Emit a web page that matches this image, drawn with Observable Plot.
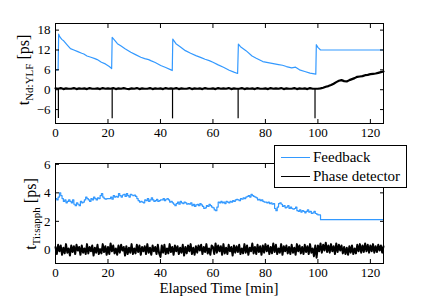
<!DOCTYPE html>
<html><head><meta charset="utf-8">
<script src="https://cdn.jsdelivr.net/npm/d3@7"></script>
<script src="https://cdn.jsdelivr.net/npm/@observablehq/plot@0.6"></script>
<style>
html,body{margin:0;padding:0;background:#fff;}
#wrap{position:relative;width:422px;height:297px;overflow:hidden;font-family:"Liberation Serif","Times New Roman",serif;color:#000;}
#wrap svg{position:absolute;left:0;overflow:visible;background:transparent;}
#wrap svg, #wrap svg text{font-family:"Liberation Serif","Times New Roman",serif !important;font-size:13px !important;}
.ylab{position:absolute;transform:translate(-50%,-50%) rotate(-90deg);white-space:nowrap;font-size:16px;line-height:1;}
.ylab sub{font-size:11px;vertical-align:-4px;line-height:0;}
#xlab{position:absolute;left:219px;top:288px;transform:translate(-50%,-50%);font-size:15px;white-space:nowrap;}
#legend{position:absolute;left:274px;top:145px;width:131px;height:41px;border:1px solid #000;background:#fff;font-size:15px;}
#legend .row{position:absolute;left:6px;height:18px;display:flex;align-items:center;}
#legend .sw{width:29px;height:0;border-top:1.3px solid;margin-right:3px;}
</style>
</head><body>
<div id="wrap"></div>
<script>
const xTicks = [0, 20, 40, 60, 80, 100, 120];
const topYTicks = [-6, 0, 6, 12, 18];
const botYTicks = [0, 2, 4, 6];
const seriesNames = ["Feedback", "Phase detector"];
const seriesColors = ["#3399ff", "#000000"];

// ---- top panel: t_Nd:YLF ----
const fbTopT = [0, 1.0, 1.2, 1.6, 2.4, 3.2, 4.5, 5.7, 7, 8.5, 10, 10.8, 12, 13.5, 15, 15.9, 17.5, 19, 20.5, 21.4,
  21.6, 22.5, 23.6, 25, 26.5, 28.7, 30.5, 32.5, 34, 35.5, 36.3, 38, 40.1, 42, 44, 44.5,
  44.7, 45.9, 47.5, 49.5, 51.5, 53.5, 55.5, 57, 58.6, 60, 62, 64, 66.2, 68, 69.4,
  69.7, 70.5, 72.6, 74.9, 76.5, 79, 81, 83, 85, 86.5, 88, 90, 91.5, 93, 95, 97, 99.2,
  99.4, 100, 101, 125];
const fbTopV = [6.0, 6.0, 16.8, 16.0, 15.2, 14.7, 13.5, 12.4, 12.0, 11.5, 11.0, 10.8, 10.2, 9.8, 9.4, 9.1, 8.3, 7.8, 7.0, 6.4,
  15.8, 15.0, 13.9, 13.2, 12.4, 11.3, 10.6, 9.8, 9.4, 9.1, 8.8, 8.2, 7.3, 6.7, 6.0, 5.8,
  15.3, 13.9, 13.0, 11.8, 11.0, 10.3, 9.7, 9.2, 8.8, 8.3, 7.5, 6.8, 5.9, 5.3, 4.9,
  13.8, 13.0, 11.8, 10.2, 9.5, 8.5, 8.2, 7.9, 7.6, 7.4, 7.0, 6.6, 6.8, 6.0, 5.5, 5.0, 4.7,
  13.6, 12.8, 12.0, 12.0];

const phTopDt = 1; // minutes between samples, starting at 0
const phTopV = [
  0.4,0.3,0.5,0.2,0.4,0.3,0.3,0.5,0.2,0.4,
  0.3,0.4,0.2,0.5,0.3,0.3,0.4,0.2,0.5,0.3,
  0.4,0.3,0.5,0.2,0.4,0.3,0.5,0.3,0.2,0.4,
  0.3,0.5,0.2,0.4,0.3,0.3,0.5,0.2,0.4,0.3,
  0.4,0.2,0.5,0.3,0.4,0.3,0.5,0.2,0.4,0.3,
  0.3,0.5,0.2,0.4,0.3,0.4,0.2,0.5,0.3,0.3,
  0.4,0.2,0.5,0.3,0.4,0.3,0.5,0.2,0.4,0.3,
  0.3,0.5,0.2,0.4,0.3,0.4,0.2,0.5,0.3,0.3,
  0.4,0.2,0.5,0.3,0.4,0.3,0.5,0.2,0.4,0.3,
  0.3,0.5,0.2,0.4,0.3,0.4,0.2,0.5,0.3,0.3,
  0.3,
  0.4,0.6,0.9,1.1,1.4,1.8,2.3,2.7,2.9,2.6,2.5,2.9,3.2,3.5,3.9,4.0,4.1,4.4,4.5,4.7,4.8,4.9,5.1,5.3,5.5];
const spikeT = [1.1, 21.6, 44.6, 69.6, 98.9];
const spikeTop = [0.3, 0.3, 0.3, 0.3, 0.3];
const spikeBottom = [-8.7, -8.8, -8.8, -8.8, -8.8];

// ---- bottom panel: t_Ti:sapph ----
const fbBotDt = 0.5;
const fbBotV = [
  3.6,3.5,3.7,4.0,3.8, 3.6,3.4,3.5,3.3,3.4, 3.5,3.4,3.3,3.5,3.2, 3.1,3.3,3.2,3.1,3.4, 3.3,
  3.35,3.5,3.7,3.6,3.5, 3.4,3.6,3.5,3.7,3.6, 3.5,3.65,3.6,3.8,3.95, 3.7,3.6,3.55,3.6,3.6,
  3.6,3.7,3.55,3.8,3.7, 3.75,3.7,3.95,3.8,3.7, 3.85,3.9,3.75,3.95,3.8, 3.7,3.9,3.85,3.8,3.85,
  3.75,3.6,3.45,3.35,3.4, 3.35,3.3,3.5,3.45,3.6, 3.4,3.5,3.65,3.5,3.4, 3.45,3.55,3.4,3.45,3.5,
  3.5,3.6,3.45,3.55,3.6, 3.5,3.35,3.4,3.3,3.2, 3.1,3.25,3.35,3.2,3.4, 3.3,3.25,3.35,3.3,3.2,
  3.25,3.2,3.3,3.1,3.2, 3.05,3.15,3.2,3.1,3.25, 3.15,3.05,2.9,2.95,3.1, 3.05,3.2,3.1,3.0,2.95,
  2.8,2.75,3.0,3.35,3.3, 3.4,3.3,3.35,3.25,3.4, 3.35,3.3,3.4,3.35,3.45, 3.4,3.5,3.55,3.5,3.45,
  3.6,3.55,3.65,3.6,3.7, 3.75,3.8,3.7,3.9,3.8, 3.75,3.7,3.65,3.5,3.55, 3.45,3.5,3.4,3.35,3.35,
  3.3,3.35,3.25,3.3,3.2, 3.25,2.9,2.75,3.0,3.25, 3.3,3.2,3.05,3.1,2.95, 3.0,3.1,2.9,3.0,2.9,
  2.85,2.9,3.0,2.75,2.7, 2.8,2.65,2.75,2.7,2.6, 2.7,2.8,2.65,2.7,2.55, 2.6,2.7,2.55,2.5,2.45];
const fbBotTailT = [101, 125];
const fbBotTailV = [2.12, 2.12];

const phBotDt = 0.5;
const phBotV = [
  0.2,-0.3,0.35,-0.1,0.3,-0.35,0.15,-0.25,0.4,-0.2,0.1,-0.4,0.3,-0.15,0.25,-0.3,0.35,-0.05,0.2,-0.35,
  0.3,-0.2,0.1,-0.3,0.4,-0.25,0.2,-0.1,0.3,-0.4,0.15,-0.2,0.35,-0.3,0.05,-0.25,0.4,-0.15,0.25,-0.35,
  0.2,-0.3,0.45,-0.1,0.3,-0.25,0.1,-0.35,0.3,-0.2,0.35,-0.05,0.2,-0.4,0.25,-0.3,0.15,-0.2,0.4,-0.3,
  0.1,-0.25,0.35,-0.15,0.3,-0.35,0.2,-0.1,0.25,-0.3,0.4,-0.2,0.15,-0.35,0.3,-0.1,0.2,-0.3,0.35,-0.25,
  -0.5,0.3,-0.2,0.35,-0.3,0.1,-0.25,0.4,-0.15,0.2,-0.35,0.3,-0.1,0.25,-0.3,0.15,-0.2,0.35,-0.4,0.2,
  -0.25,0.3,-0.1,0.4,-0.3,0.15,-0.35,0.25,-0.2,0.3,-0.05,0.35,-0.3,0.2,-0.15,0.4,-0.25,0.1,-0.35,0.3,
  0.2,-0.3,0.45,-0.2,0.3,-0.1,0.25,-0.35,0.4,-0.25,0.15,-0.3,0.35,-0.1,0.2,-0.4,0.3,-0.2,0.25,-0.15,
  0.35,-0.3,0.1,-0.25,0.4,-0.2,0.3,-0.35,0.15,-0.1,0.45,-0.25,0.2,-0.3,0.35,-0.15,0.25,-0.35,0.3,-0.2,
  0.4,-0.1,0.3,-0.3,0.2,-0.25,0.45,-0.15,0.35,-0.3,0.1,-0.2,0.4,-0.35,0.25,-0.1,0.3,-0.25,0.2,-0.3,
  0.35,-0.2,0.15,-0.35,0.4,-0.1,0.3,-0.25,0.2,-0.3,0.35,-0.15,0.25,-0.3,0.4,-0.2,0.1,-0.45,0.3,-0.55,
  0.3,-0.1,0.45,-0.2,0.35,-0.05,0.5,-0.15,0.3,-0.2,0.4,-0.1,0.25,-0.3,0.45,-0.15,0.35,-0.05,0.3,-0.25,
  0.2,-0.3,0.15,-0.35,0.25,-0.2,0.3,-0.3,0.1,-0.25,0.35,-0.1,0.4,-0.2,0.3,-0.15,0.45,-0.1,0.35,-0.2,
  0.3,-0.1,0.4,-0.2,0.25,-0.15,0.35,-0.05,0.3,-0.2,0.25];

// ---- build tables ----
const fbTop = fbTopT.map((t, i) => ({t, v: fbTopV[i]}));
const phTop = phTopV.map((v, i) => ({t: i * phTopDt, v}));
const spikes = spikeT.map((t, i) => ({t, y1: spikeTop[i], y2: spikeBottom[i]}));
const fbBot = fbBotV.map((v, i) => ({t: i * fbBotDt, v})).concat(fbBotTailT.map((t, i) => ({t, v: fbBotTailV[i]})));
const phBot = phBotV.map((v, i) => ({t: i * phBotDt, v}));

const fmt = d => (d < 0 ? "\u2212" + (-d) : String(d));
const font = {fontFamily: "Liberation Serif", fontSize: "13px", color: "#000", background: "transparent", overflow: "visible"};

function frameAxes(yTicks) {
  return [
    Plot.axisX({anchor: "bottom", ticks: xTicks, tickFormat: fmt, tickSize: 0, tickPadding: 4, label: null}),
    Plot.axisX({anchor: "bottom", ticks: xTicks, tickSize: -4, fill: "none", label: null}),
    Plot.axisX({anchor: "top", ticks: xTicks, tickSize: -4, fill: "none", label: null}),
    Plot.axisY({anchor: "left", ticks: yTicks, tickFormat: fmt, tickSize: 0, tickPadding: 5, label: null}),
    Plot.axisY({anchor: "left", ticks: yTicks, tickSize: -4, fill: "none", label: null}),
    Plot.axisY({anchor: "right", ticks: yTicks, tickSize: -4, fill: "none", label: null}),
    Plot.frame({stroke: "#000", strokeWidth: 1})
  ];
}

const topPlot = Plot.plot({
  width: 422, height: 140,
  marginLeft: 55, marginRight: 39, marginTop: 23, marginBottom: 17,
  style: font,
  x: {domain: [0, 125]},
  y: {domain: [-10.2, 20]},
  marks: [
    Plot.line(fbTop, {x: "t", y: "v", stroke: seriesColors[0], strokeWidth: 1.2}),
    Plot.line(phTop, {x: "t", y: "v", stroke: seriesColors[1], strokeWidth: 2.2}),
    Plot.ruleX(spikes, {x: "t", y1: "y1", y2: "y2", stroke: seriesColors[1], strokeWidth: 1.2}),
    ...frameAxes(topYTicks)
  ]
});
topPlot.style.top = "0px";

const botPlot = Plot.plot({
  width: 422, height: 157,
  marginLeft: 55, marginRight: 39, marginTop: 23, marginBottom: 34,
  style: font,
  x: {domain: [0, 125]},
  y: {domain: [-0.96, 6.06]},
  marks: [
    Plot.line(fbBot, {x: "t", y: "v", stroke: seriesColors[0], strokeWidth: 1.2, curve: "step-after"}),
    Plot.line(phBot, {x: "t", y: "v", stroke: seriesColors[1], strokeWidth: 2}),
    ...frameAxes(botYTicks)
  ]
});
botPlot.style.top = "140px";

const wrap = document.getElementById("wrap");
wrap.appendChild(topPlot);
wrap.appendChild(botPlot);

function addDiv(cls, html, styles) {
  const d = document.createElement("div");
  if (cls) d.className = cls;
  d.innerHTML = html;
  Object.assign(d.style, styles || {});
  wrap.appendChild(d);
  return d;
}
addDiv("ylab", "t<sub>Nd:YLF</sub> [ps]", {left: "24px", top: "70px"});
addDiv("ylab", "t<sub>Ti:sapph</sub> [ps]", {left: "31px", top: "214px"});
const xl = addDiv(null, "Elapsed Time [min]");
xl.id = "xlab";

const lg = addDiv(null, "");
lg.id = "legend";
seriesNames.forEach((name, i) => {
  const r = document.createElement("div");
  r.className = "row";
  r.style.top = (i === 0 ? 2 : 21) + "px";
  r.innerHTML = `<span class="sw" style="border-color:${seriesColors[i]}"></span><span>${name}</span>`;
  lg.appendChild(r);
});
</script>
</body></html>
